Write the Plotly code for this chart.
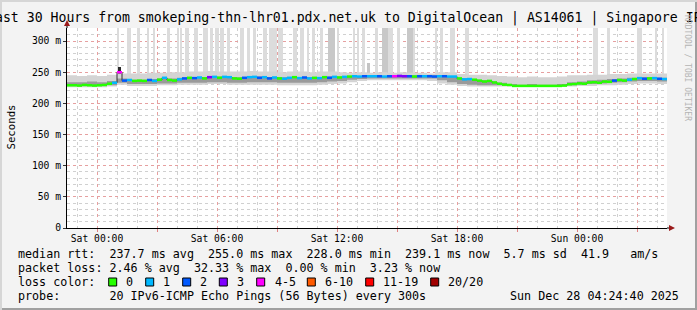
import plotly.graph_objects as go

# ---------------- data ----------------
START_H = -1.5          # hours relative to Sat 00:00 at left edge
END_H = 28.5
MED_STEP = 0.25         # hours per median sample
SMOKE_STEP = 0.5        # hours per smoke sample

median_ms = [229.0, 229.0, 228.5, 229.5, 229.0, 228.5, 229.0, 229.5, 231.5, 233.0,
             250.0, 236.5, 237.5, 236.0, 236.5, 236.0, 237.5, 236.0, 238.0, 241.0,
             237.5, 236.5, 238.5, 240.0, 241.0, 240.5, 241.5, 240.0, 242.0, 242.5,
             241.0, 242.5, 242.0, 240.0, 239.5, 241.0, 242.0, 242.5, 241.0, 242.0,
             240.0, 241.5, 240.0, 239.5, 241.0, 242.0, 240.5, 241.5, 240.0, 241.0,
             240.5, 242.0, 241.0, 242.5, 241.5, 242.5, 243.0, 243.5, 243.0, 243.5,
             243.5, 243.5, 243.5, 243.0, 243.5, 243.5, 244.0, 243.5, 243.5, 243.0,
             243.5, 243.5, 243.5, 243.0, 243.5, 243.5, 243.0, 243.0, 240.0, 238.5,
             239.0, 238.0, 236.5, 235.0, 236.0, 233.5, 231.5, 230.0, 229.5, 228.0,
             228.0, 228.0, 228.0, 228.0, 228.0, 228.0, 228.0, 228.0, 228.0, 228.5,
             230.5, 231.0, 232.0, 231.5, 233.5, 234.0, 233.0, 235.0, 234.5, 236.5,
             237.5, 236.5, 238.0, 239.0, 240.5, 239.5, 240.0, 240.5, 239.5, 239.0]

# loss class per median sample: 0 ->"0", 1->"1", 2->"2", 3->"3", 4->"4-5", 5->"6-10", 6->"11-19", 7->"20/20"
loss_class = [0, 0, 0, 0, 0, 0, 0, 0, 0, 1,
              4, 2, 1, 0, 0, 0, 2, 1, 0, 1,
              0, 0, 1, 2, 0, 2, 1, 0, 3, 1,
              0, 1, 1, 0, 0, 2, 1, 1, 2, 1,
              2, 1, 0, 1, 1, 0, 1, 2, 1, 0,
              1, 0, 2, 1, 0, 1, 0, 1, 1, 2,
              1, 1, 2, 1, 2, 4, 3, 3, 2, 0,
              2, 1, 2, 2, 1, 2, 1, 1, 0, 1,
              1, 0, 0, 0, 0, 0, 0, 0, 0, 0,
              0, 0, 0, 0, 0, 0, 0, 0, 0, 0,
              0, 0, 0, 0, 0, 0, 0, 0, 0, 2,
              0, 0, 1, 0, 1, 2, 0, 1, 2, 1]

smoke_hi_outer = [245, 244, 245, 244, 246, 248, 248, 248, 249, 249,
                  250, 250, 251, 251, 252, 251, 251, 251, 252, 251,
                  251, 250, 251, 251, 250, 251, 251, 250, 249, 250,
                  249, 250, 249, 250, 249, 249, 248, 250, 250, 247,
                  246, 246, 245, 244, 243, 242, 243, 242, 242, 243,
                  245, 245, 246, 246, 247, 247, 248, 248, 248, 248]
smoke_hi_core = [234, 234, 235, 234, 236, 240, 238, 238, 239, 240,
                 240, 241, 242, 242, 243, 243, 242, 242, 243, 243,
                 242, 242, 242, 242, 242, 242, 243, 243, 244, 244,
                 244, 244, 244, 245, 245, 245, 245, 244, 243, 240,
                 239, 237, 235, 233, 231, 230, 231, 230, 230, 231,
                 234, 235, 237, 238, 239, 240, 241, 242, 242, 241]
smoke_lo_core = [228, 228, 228, 228, 229, 233, 231, 231, 231, 232,
                 232, 233, 233, 233, 234, 234, 233, 233, 234, 234,
                 234, 233, 233, 233, 233, 234, 235, 236, 238, 239,
                 240, 240, 240, 240, 240, 240, 240, 237, 234, 231,
                 230, 229, 229, 229, 228, 228, 228, 228, 228, 228,
                 229, 230, 231, 232, 233, 234, 235, 236, 236, 235]
smoke_lo_outer = [226, 226, 226, 226, 227, 230, 228, 228, 228, 229,
                  229, 230, 230, 230, 231, 231, 230, 230, 230, 230,
                  230, 229, 229, 229, 229, 230, 231, 232, 234, 236,
                  237, 237, 237, 237, 237, 237, 236, 232, 230, 228,
                  227, 227, 227, 227, 227, 227, 227, 227, 227, 227,
                  227, 228, 228, 229, 229, 230, 231, 232, 232, 231]

# off-scale smoke columns (hours, width in hours)
tall_t = [1.05, 1.6, 2.075, 2.55, 2.85, 3.575, 4.05, 4.2, 4.5, 4.95,
          5.425, 5.725, 6.0, 6.25, 6.575, 7.25, 7.575, 7.875, 8.4, 8.8,
          9.175, 9.9, 10.25, 10.55, 10.825, 11.225, 12.025, 12.85, 13.05, 13.325,
          13.975, 14.675, 15.075, 15.85, 16.95, 17.225, 17.775, 18.5, 24.925, 25.575,
          27.125, 27.95, 28.3]
tall_w = [0.1, 0.2, 0.15, 0.1, 0.1, 0.15, 0.1, 0.1, 0.2, 0.2,
          0.25, 0.15, 0.2, 0.2, 0.15, 0.2, 0.15, 0.15, 0.2, 0.4,
          0.25, 0.2, 0.2, 0.1, 0.15, 0.15, 0.1, 0.1, 0.1, 0.15,
          0.15, 0.25, 0.15, 0.1, 0.1, 0.15, 0.25, 0.2, 0.25, 0.15,
          0.25, 0.1, 0.1]
dense_t = [11.725, 14.4, 15.65]
dense_w = [0.35, 0.3, 0.3]
TALL_BASE = 240
TALL_TOP = 330

spike_t = [1.125]
spike_w = [0.15]
spike_lo = [237]
spike_hi = [258]
bump_t = [13.575]
bump_w = [0.15]
bump_lo = [245]
bump_hi = [265]

major_tick_h = [0, 3, 6, 9, 12, 15, 18, 21, 24, 27]
major_tick_text = ["Sat 00:00", "", "Sat 06:00", "", "Sat 12:00", "", "Sat 18:00", "", "Sun 00:00", ""]
y_tick_vals = [0, 50, 100, 150, 200, 250, 300]
y_tick_text = ["0", "50 m", "100 m", "150 m", "200 m", "250 m", "300 m"]
Y_MAX = 320.9

title_text = "Last 30 Hours from smokeping-thn-lhr01.pdx.net.uk to DigitalOcean | AS14061 | Singapore IPv6"
legend_line1 = "median rtt:  237.7 ms avg  255.0 ms max  228.0 ms min  239.1 ms now  5.7 ms sd  41.9   am/s"
legend_line2 = "packet loss: 2.46 % avg  32.33 % max  0.00 % min  3.23 % now"
legend_line3 = "loss color:"
legend_line4 = "probe:       20 IPv6-ICMP Echo Pings (56 Bytes) every 300s"
stamp_text = "Sun Dec 28 04:24:40 2025"
loss_labels = ["0", "1", "2", "3", "4-5", "6-10", "11-19", "20/20"]
loss_colors = ["#26ff00", "#00b8ff", "#0059ff", "#7f00ff", "#ff00ff", "#ff5a00", "#ff0000", "#a10000"]

# ---------------- layout geometry (pixels) ----------------
W, H = 697, 310
L, R, T, B = 67, 667, 28, 228
PW, PH = R - L, B - T
FONT = "DejaVu Sans Mono"


def px(x):
    return (x - L) / PW


def py(y):
    return (B - y) / PH


fig = go.Figure()

# tall light smoke columns
fig.add_trace(go.Bar(x=tall_t, width=tall_w, base=[TALL_BASE] * len(tall_t),
                     y=[TALL_TOP - TALL_BASE] * len(tall_t),
                     marker=dict(color="#dcdcdc", line=dict(width=0)), hoverinfo="skip"))
fig.add_trace(go.Bar(x=dense_t, width=dense_w, base=[TALL_BASE] * len(dense_t),
                     y=[TALL_TOP - TALL_BASE] * len(dense_t),
                     marker=dict(color="#c8c8c8", line=dict(width=0)), hoverinfo="skip"))

# smoke bands
sx = [START_H + SMOKE_STEP * j for j in range(len(smoke_hi_outer))] + [END_H]


def ext(a):
    return list(a) + [a[-1]]


fig.add_trace(go.Scatter(x=sx, y=ext(smoke_lo_outer), mode="lines", line=dict(width=0, shape="hv"),
                         hoverinfo="skip"))
fig.add_trace(go.Scatter(x=sx, y=ext(smoke_hi_outer), mode="lines", line=dict(width=0, shape="hv"),
                         fill="tonexty", fillcolor="#d4d4d4", hoverinfo="skip"))
fig.add_trace(go.Scatter(x=sx, y=ext(smoke_lo_core), mode="lines", line=dict(width=0, shape="hv"),
                         hoverinfo="skip"))
fig.add_trace(go.Scatter(x=sx, y=ext(smoke_hi_core), mode="lines", line=dict(width=0, shape="hv"),
                         fill="tonexty", fillcolor="#9a9a9a", hoverinfo="skip"))

# spikes
fig.add_trace(go.Bar(x=spike_t, width=spike_w, base=spike_lo,
                     y=[h - l for h, l in zip(spike_hi, spike_lo)],
                     marker=dict(color="#2a2a2a", line=dict(width=0)), hoverinfo="skip"))
fig.add_trace(go.Bar(x=bump_t, width=bump_w, base=bump_lo,
                     y=[h - l for h, l in zip(bump_hi, bump_lo)],
                     marker=dict(color="#c4c4c4", line=dict(width=0)), hoverinfo="skip"))

# median: thin dark staircase then colored segments
mx = [START_H + MED_STEP * i for i in range(len(median_ms))] + [END_H]
fig.add_trace(go.Scatter(x=mx, y=ext(median_ms), mode="lines",
                         line=dict(color="#303030", width=1, shape="hv"), hoverinfo="skip"))
for c, col in enumerate(loss_colors):
    xs, ys = [], []
    for i, (m, lc) in enumerate(zip(median_ms, loss_class)):
        if lc == c:
            x0 = START_H + MED_STEP * i
            xs += [x0, x0 + MED_STEP, None]
            ys += [m, m, None]
    if xs:
        fig.add_trace(go.Scatter(x=xs, y=ys, mode="lines", line=dict(color=col, width=2.5),
                                 hoverinfo="skip"))

shapes = []
annotations = []

# frame edges
shapes.append(dict(type="rect", xref="paper", yref="paper", x0=px(0), x1=px(W), y0=py(H - 2), y1=py(H),
                   fillcolor="#a0a0a0", line=dict(width=0), layer="above"))
shapes.append(dict(type="rect", xref="paper", yref="paper", x0=px(W - 2), x1=px(W), y0=py(H), y1=py(0),
                   fillcolor="#a0a0a0", line=dict(width=0), layer="above"))
shapes.append(dict(type="rect", xref="paper", yref="paper", x0=px(0), x1=px(W), y0=py(2), y1=py(0),
                   fillcolor="#d6d6d6", line=dict(width=0), layer="above"))
shapes.append(dict(type="rect", xref="paper", yref="paper", x0=px(0), x1=px(2), y0=py(H), y1=py(0),
                   fillcolor="#d6d6d6", line=dict(width=0), layer="above"))

# axis extension + arrows
shapes.append(dict(type="line", xref="paper", yref="paper", x0=px(L), x1=px(L), y0=py(T), y1=py(24),
                   line=dict(color="#000000", width=1)))
shapes.append(dict(type="path", xref="paper", yref="paper",
                   path=f"M {px(L-3)},{py(26)} L {px(L+3)},{py(26)} L {px(L)},{py(20)} Z",
                   fillcolor="#9a1a1a", line=dict(width=0)))
shapes.append(dict(type="line", xref="paper", yref="paper", x0=px(R), x1=px(R + 4), y0=py(B), y1=py(B),
                   line=dict(color="#000000", width=1)))
shapes.append(dict(type="path", xref="paper", yref="paper",
                   path=f"M {px(R+2)},{py(B-3)} L {px(R+2)},{py(B+3)} L {px(R+8)},{py(B)} Z",
                   fillcolor="#9a1a1a", line=dict(width=0)))

# title
annotations.append(dict(text=title_text, xref="paper", yref="paper", x=px(-15.2), y=py(18.5),
                        xanchor="left", yanchor="middle", showarrow=False,
                        font=dict(family=FONT, size=13.2, color="#000")))
# y axis title
annotations.append(dict(text="Seconds", xref="paper", yref="paper", x=px(11), y=py(127.5),
                        xanchor="center", yanchor="middle", textangle=-90, showarrow=False,
                        font=dict(family=FONT, size=10.7, color="#000")))
# credit
annotations.append(dict(text="RRDTOOL / TOBI OETIKER", xref="paper", yref="paper", x=px(688), y=py(68),
                        xanchor="center", yanchor="middle", textangle=90, showarrow=False,
                        font=dict(family=FONT, size=8, color="#b4b4b4")))

# legend lines
LEG_X = 16
LEG_FS = 11.7
for text, yy in [(legend_line1, 254.3), (legend_line2, 268.3), (legend_line3, 282.3), (legend_line4, 296.3)]:
    annotations.append(dict(text=text.replace(" ", "&nbsp;"), xref="paper", yref="paper", x=px(LEG_X), y=py(yy),
                            xanchor="left", yanchor="middle", showarrow=False,
                            font=dict(family=FONT, size=LEG_FS, color="#000")))
annotations.append(dict(text=stamp_text, xref="paper", yref="paper", x=px(681), y=py(296.3),
                        xanchor="right", yanchor="middle", showarrow=False,
                        font=dict(family=FONT, size=LEG_FS, color="#000")))

box_x = [108.7, 145.7, 182.7, 219.3, 256.7, 307.3, 365.7, 430.7]
lab_x = [124, 161, 198.3, 235, 272.7, 323.3, 380.7, 446]
for bx, lx, lab, col in zip(box_x, lab_x, loss_labels, loss_colors):
    shapes.append(dict(type="rect", xref="paper", yref="paper", x0=px(bx), x1=px(bx + 8),
                       y0=py(286), y1=py(278), fillcolor=col, line=dict(color="#000", width=1)))
    annotations.append(dict(text=lab, xref="paper", yref="paper", x=px(lx), y=py(282.3),
                            xanchor="left", yanchor="middle", showarrow=False,
                            font=dict(family=FONT, size=LEG_FS, color="#000")))

fig.update_layout(
    width=W, height=H,
    margin=dict(l=L, r=W - R, t=T, b=H - B, pad=0, autoexpand=False),
    paper_bgcolor="#f3f3f3", plot_bgcolor="#ffffff",
    showlegend=False, barmode="overlay", bargap=0,
    font=dict(family=FONT, size=10, color="#000"),
    shapes=shapes, annotations=annotations,
    xaxis=dict(range=[START_H, END_H], tickmode="array", tickvals=major_tick_h, ticktext=major_tick_text,
               showgrid=True, gridcolor="#e6a0a0", griddash="dot", gridwidth=1,
               minor=dict(tickmode="linear", tick0=0, dtick=1, showgrid=True, gridcolor="#d0d0d0",
                          griddash="dot", gridwidth=1, ticks=""),
               showline=True, linecolor="#000", linewidth=1, ticks="outside", ticklen=3,
               tickcolor="#e08080", tickfont=dict(family=FONT, size=9.7), zeroline=False,
               ticklabelstandoff=-2, layer="above traces", fixedrange=True),
    yaxis=dict(range=[0, Y_MAX], tickmode="array", tickvals=y_tick_vals, ticktext=y_tick_text,
               showgrid=True, gridcolor="#e6a0a0", griddash="dot", gridwidth=1,
               minor=dict(tickmode="linear", tick0=0, dtick=10, showgrid=True, gridcolor="#d0d0d0",
                          griddash="dot", gridwidth=1, ticks=""),
               showline=True, linecolor="#000", linewidth=1, ticks="outside", ticklen=3,
               tickcolor="#333", tickfont=dict(family=FONT, size=9.7), zeroline=False,
               layer="above traces", fixedrange=True),
)

fig.write_html("out.html")
